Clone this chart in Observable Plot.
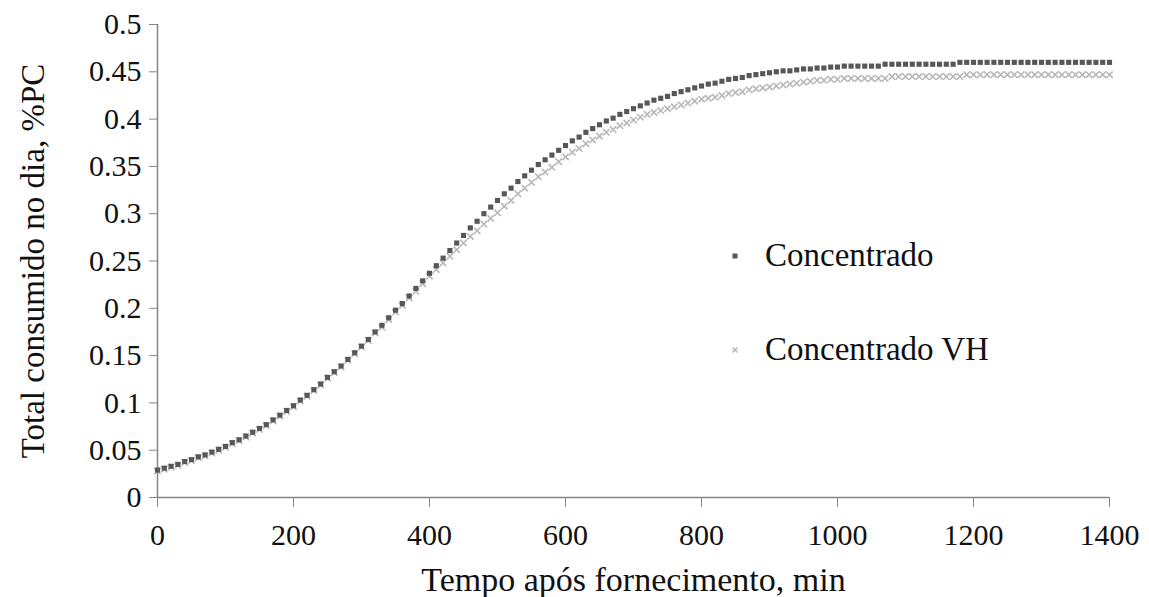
<!DOCTYPE html>
<html>
<head>
<meta charset="utf-8">
<script src="https://cdn.jsdelivr.net/npm/d3@7"></script>
<script src="https://cdn.jsdelivr.net/npm/@observablehq/plot@0.6"></script>
<style>
  html, body { margin: 0; padding: 0; background: #fff; }
  #wrap { position: relative; width: 1149px; height: 597px; font-family: "Liberation Serif", "Times New Roman", serif; }
  .leg { position: absolute; font-size: 33px; line-height: 33px; color: #111; white-space: nowrap; }
  .legmark { position: absolute; }
</style>
</head>
<body>
<div id="wrap"></div>
<script>
// Sample times (min after feeding)
const minutes = [
  0,10,20,30,40,50,60,70,80,90,
  100,110,120,130,140,150,160,170,180,190,
  200,210,220,230,240,250,260,270,280,290,
  300,310,320,330,340,350,360,370,380,390,
  400,410,420,430,440,450,460,470,480,490,
  500,510,520,530,540,550,560,570,580,590,
  600,610,620,630,640,650,660,670,680,690,
  700,710,720,730,740,750,760,770,780,790,
  800,810,820,830,840,850,860,870,880,890,
  900,910,920,930,940,950,960,970,980,990,
  1000,1010,1020,1030,1040,1050,1060,1070,1080,1090,
  1100,1110,1120,1130,1140,1150,1160,1170,1180,1190,
  1200,1210,1220,1230,1240,1250,1260,1270,1280,1290,
  1300,1310,1320,1330,1340,1350,1360,1370,1380,1390,
  1400
];

// Series "Concentrado"
const concentrado = [
  0.029,0.031,0.033,0.035,0.038,0.040,0.043,0.045,0.048,0.051,
  0.054,0.058,0.061,0.065,0.069,0.073,0.077,0.082,0.087,0.092,
  0.097,0.103,0.108,0.114,0.120,0.127,0.133,0.139,0.146,0.153,
  0.160,0.167,0.175,0.182,0.190,0.198,0.205,0.213,0.221,0.229,
  0.237,0.245,0.253,0.261,0.269,0.277,0.285,0.292,0.300,0.307,
  0.314,0.321,0.327,0.334,0.340,0.346,0.352,0.357,0.362,0.367,
  0.372,0.377,0.381,0.386,0.390,0.394,0.398,0.401,0.405,0.408,
  0.411,0.414,0.417,0.420,0.422,0.424,0.427,0.429,0.431,0.433,
  0.435,0.437,0.438,0.440,0.442,0.443,0.444,0.446,0.447,0.448,
  0.449,0.450,0.451,0.451,0.452,0.453,0.453,0.454,0.454,0.455,
  0.455,0.456,0.456,0.456,0.456,0.456,0.456,0.458,0.458,0.458,
  0.458,0.458,0.458,0.458,0.458,0.458,0.458,0.458,0.460,0.460,
  0.460,0.460,0.460,0.460,0.460,0.460,0.460,0.460,0.460,0.460,
  0.460,0.460,0.460,0.460,0.460,0.460,0.460,0.460,0.460,0.460,
  0.460
];

// Series "Concentrado VH"
const concentradoVH = [
  0.028,0.030,0.032,0.034,0.037,0.039,0.042,0.044,0.047,0.050,
  0.053,0.057,0.060,0.064,0.068,0.072,0.076,0.081,0.086,0.091,
  0.096,0.102,0.107,0.113,0.119,0.126,0.132,0.138,0.145,0.152,
  0.159,0.166,0.174,0.180,0.188,0.196,0.203,0.211,0.218,0.226,
  0.234,0.241,0.248,0.255,0.262,0.269,0.276,0.282,0.289,0.295,
  0.301,0.308,0.314,0.321,0.327,0.333,0.339,0.344,0.349,0.355,
  0.360,0.365,0.369,0.374,0.378,0.382,0.386,0.389,0.393,0.396,
  0.399,0.402,0.405,0.407,0.409,0.411,0.413,0.415,0.417,0.419,
  0.421,0.422,0.423,0.425,0.427,0.428,0.429,0.431,0.432,0.433,
  0.434,0.435,0.436,0.437,0.438,0.439,0.440,0.441,0.441,0.442,
  0.442,0.443,0.443,0.443,0.443,0.443,0.443,0.443,0.445,0.445,
  0.445,0.445,0.445,0.445,0.445,0.445,0.445,0.445,0.445,0.447,
  0.447,0.447,0.447,0.447,0.447,0.447,0.447,0.447,0.447,0.447,
  0.447,0.447,0.447,0.447,0.447,0.447,0.447,0.447,0.447,0.447,
  0.447
];

const seriesNames = ["Concentrado", "Concentrado VH"];
const xTicks = [0, 200, 400, 600, 800, 1000, 1200, 1400];
const xTickLabels = ["0", "200", "400", "600", "800", "1000", "1200", "1400"];
const yTicks = [0, 0.05, 0.1, 0.15, 0.2, 0.25, 0.3, 0.35, 0.4, 0.45, 0.5];
const yTickLabels = ["0", "0.05", "0.1", "0.15", "0.2", "0.25", "0.3", "0.35", "0.4", "0.45", "0.5"];
const xTitle = "Tempo após fornecimento, min";
const yTitle = "Total consumido no dia, %PC";

const axisGray = "#868686";
const concColor = "#575757";
const vhColor = "#b8b8b8";

const plot = Plot.plot({
  width: 1149,
  height: 597,
  marginLeft: 157,
  marginRight: 40,
  marginTop: 24,
  marginBottom: 100,
  x: { domain: [0, 1400] },
  y: { domain: [0, 0.5] },
  style: { fontFamily: "'Liberation Serif', 'Times New Roman', serif", fontSize: "30px", color: "#111", background: "#fff", overflow: "visible" },
  marks: [
    Plot.axisY({
      ticks: yTicks,
      tickFormat: d => yTickLabels[yTicks.indexOf(d)],
      tickSize: 8,
      tickPadding: 8,
      stroke: axisGray,
      fontSize: 30,
      label: null
    }),
    Plot.axisY({
      ticks: [],
      tickSize: 0,
      fontSize: 33,
      label: yTitle,
      labelAnchor: "center",
      labelArrow: "none",
      labelOffset: 137
    }),
    Plot.axisX({
      ticks: xTicks,
      tickFormat: d => xTickLabels[xTicks.indexOf(d)],
      tickSize: 10,
      tickPadding: 16,
      stroke: axisGray,
      fontSize: 30,
      label: null
    }),
    Plot.axisX({
      ticks: [],
      tickSize: 0,
      fontSize: 34,
      label: xTitle,
      labelAnchor: "center",
      labelArrow: "none",
      labelOffset: 93
    }),
    Plot.ruleX([0], { stroke: axisGray, strokeWidth: 1.5 }),
    Plot.ruleY([0], { stroke: axisGray, strokeWidth: 1.5 }),
    Plot.dot(concentradoVH, {
      x: (d, i) => minutes[i], y: d => d,
      symbol: "times", r: 3, stroke: vhColor, strokeWidth: 1.6
    }),
    Plot.dot(concentrado, {
      x: (d, i) => minutes[i], y: d => d,
      symbol: "square", r: 2.9, fill: concColor, stroke: "none"
    })
  ]
});

const wrap = document.getElementById("wrap");
wrap.appendChild(plot);

// Legend (inside plot area, right of centre)
const legendItems = [
  { name: seriesNames[0], top: 239, kind: "square" },
  { name: seriesNames[1], top: 333, kind: "times" }
];
for (const it of legendItems) {
  const mk = document.createElementNS("http://www.w3.org/2000/svg", "svg");
  mk.setAttribute("width", 10);
  mk.setAttribute("height", 10);
  mk.setAttribute("class", "legmark");
  mk.style.left = "730px";
  mk.style.top = (it.top + 12) + "px";
  if (it.kind === "square") {
    mk.innerHTML = `<rect x="2.5" y="2.5" width="5" height="5" fill="${concColor}"/>`;
  } else {
    mk.innerHTML = `<path d="M2.5,2.5L7.5,7.5M7.5,2.5L2.5,7.5" stroke="${vhColor}" stroke-width="1.6"/>`;
  }
  wrap.appendChild(mk);
  const t = document.createElement("div");
  t.className = "leg";
  t.style.left = "765px";
  t.style.top = it.top + "px";
  t.textContent = it.name;
  wrap.appendChild(t);
}
</script>
</body>
</html>
